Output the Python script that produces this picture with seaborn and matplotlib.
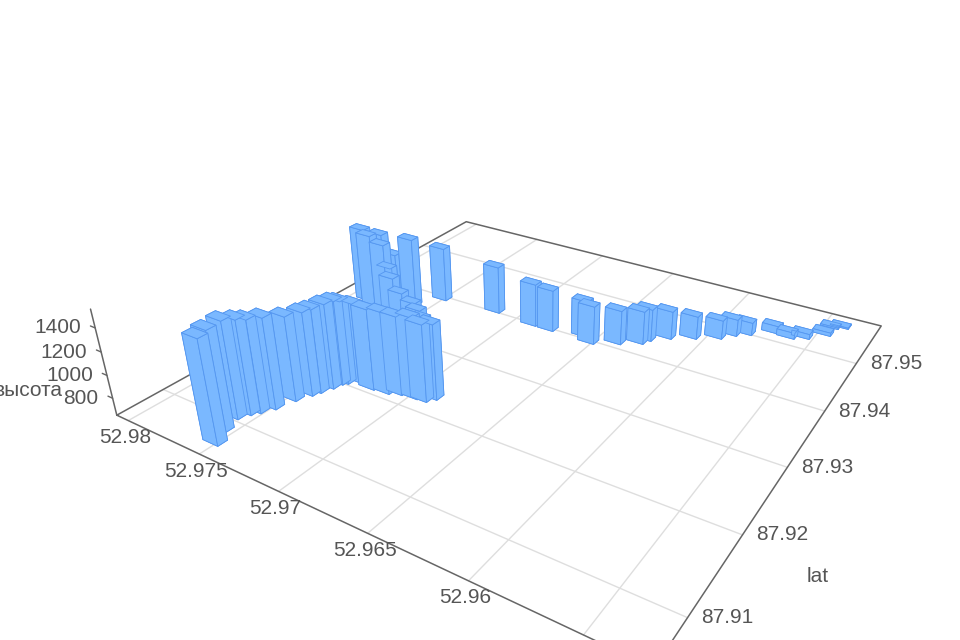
import numpy as np
import seaborn as sns
import matplotlib
matplotlib.use("Agg")
import matplotlib.pyplot as plt
from mpl_toolkits.mplot3d import proj3d

lon = [52.97525,52.97579,52.97611,52.97584,52.97556,52.97520,52.97490,52.97455,52.97437,52.97412,52.97399,52.97380,52.97330,
       52.97234,52.97145,52.97084,52.96997,52.96943,52.96912,52.97905,52.97831,52.97819,52.97725,52.97632,52.97758,52.97700,
       52.97650,52.97572,52.97476,52.97415,52.97360,52.97522,52.97168,52.96906,52.96794,52.96599,52.96532,52.96407,52.96284,
       52.96306,52.96201,52.96085,52.95969,52.95912,52.95846,52.95724,52.95635,52.95565,52.95478,52.95466,52.95419]
lat = [87.9070,87.9087,87.9108,87.9119,87.9126,87.9138,87.9158,87.9173,87.9181,87.9193,87.9203,87.9207,87.9215,
       87.9212,87.9214,87.9219,87.9221,87.9222,87.9230,87.9352,87.9346,87.9362,87.9344,87.9370,87.9369,87.9347,
       87.9339,87.9335,87.9333,87.9327,87.9321,87.9398,87.9405,87.9401,87.9401,87.9409,87.9400,87.9414,87.9437,
       87.9427,87.9452,87.9466,87.9480,87.9494,87.9504,87.9522,87.9520,87.9528,87.9546,87.9565,87.9571]
height = [1535,1508,1487,1466,1452,1439,1387,1383,1385,1397,1392,1384,1351,
          1362,1367,1341,1363,1326,1311,1353,1339,1305,1295,1300,1108,1071,
          1019,919,868,847,816,1167,1099,1052,1040,989,1005,967,949,
          957,911,863,825,806,767,718,705,695,680,662,660]

lon_ticks = [52.98, 52.975, 52.97, 52.965, 52.96, 52.955]
lon_labels = ["52.98", "52.975", "52.97", "52.965", "52.96"]
lat_ticks = [87.95, 87.94, 87.93, 87.92, 87.91]
lat_labels = ["87.95", "87.94", "87.93", "87.92", "87.91"]
z_ticks = [1400, 1200, 1000, 800]
z_labels = ["1400", "1200", "1000", "800"]

lon_min, lon_max = 52.95225, 52.98086
lat_min, lat_max = 87.90483, 87.95918
z_min, z_max = 648.5, 1552.7

sns.set_theme(style="white", font="Liberation Sans")

# the 3d view box is wider to the left of its centre, hence the two sizes
scale = 805.3
side = scale * 0.185 / 0.19
left, bottom = 527.15 - scale / 2, 321.6 - scale / 2
fig = plt.figure(figsize=(9.6, 6.4), dpi=100)
ax = fig.add_axes([left / 960, bottom / 640, side / 960, side / 640], projection="3d")
ax.set_axis_off()
ax.computed_zorder = False
ax.patch.set_alpha(0)

grid_col = "#dedede"
axis_col = "#666666"
text_col = "#555555"

for t in lon_ticks:
    ax.plot([t, t], [lat_min, lat_max], [z_min, z_min], color=grid_col, lw=1.0, zorder=1, clip_on=False)
for t in lat_ticks:
    ax.plot([lon_min, lon_max], [t, t], [z_min, z_min], color=grid_col, lw=1.0, zorder=1, clip_on=False)

# box edges on the floor, then the height axis
ax.plot([lon_max, lon_min, lon_min, lon_max, lon_max], [lat_min, lat_min, lat_max, lat_max, lat_min],
        [z_min] * 5, color=axis_col, lw=1.1, zorder=2, clip_on=False)
ax.plot([lon_max, lon_max], [lat_min, lat_min], [z_min, z_max], color=axis_col, lw=1.1, zorder=2, clip_on=False)
for t in z_ticks:
    ax.plot([lon_max, lon_max + 0.00035], [lat_min, lat_min], [t, t], color=axis_col, lw=1.0, zorder=2, clip_on=False)

dx, dy = 0.0010, 0.0011
x = np.array(lon) - dx / 2
y = np.array(lat) - dy / 2
ax.bar3d(x, y, z_min, dx, dy, np.array(height) - z_min, color="#7ab8ff", edgecolor="#5597f0",
         linewidth=0.6, shade=False, zorder=3)

ax.view_init(28.1933, -57.066, 0.3492)
ax.set_proj_type("persp", focal_length=0.22725)
ax.set_box_aspect((1, 1, 0.2015))
ax.set_xlim(lon_max, lon_min, view_margin=0)
ax.set_ylim(lat_min, lat_max, view_margin=0)
ax.set_zlim(z_min, z_max, view_margin=0)


def label(xs, ys, zs, txt, off, ha="center"):
    px, py, _ = proj3d.proj_transform(xs, ys, zs, ax.get_proj())
    ax.annotate(txt, xy=(px, py), xytext=off, textcoords="offset pixels", ha=ha, va="center",
                color=text_col, fontsize=15, annotation_clip=False)


for t, s in zip(lon_ticks, lon_labels):
    label(t, lat_min, z_min, s, (-3, -17))
for t, s in zip(lat_ticks, lat_labels):
    label(lon_min, t, z_min, s, (40, 0))
for t, s in zip(z_ticks, z_labels):
    label(lon_max, lat_min, t, s, (-14, 0), ha="right")

fig.text(818 / 960, 1 - 576 / 640, "lat", color=text_col, fontsize=15, ha="center", va="center")
fig.text(62 / 960, 1 - 390 / 640, "высота", color=text_col, fontsize=15, ha="right", va="center")

fig.savefig("out.png", dpi=100)
